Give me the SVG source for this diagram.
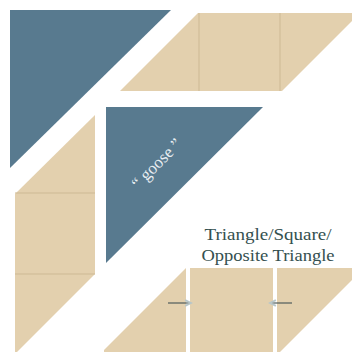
<svg xmlns="http://www.w3.org/2000/svg" width="352" height="352" viewBox="0 0 352 352">
<style>
.blue{fill:#587a8f}
.tan{fill:#e3d0ae}
.seam{stroke:#cdb994;stroke-width:1;fill:none}
.lbl{font-family:"Liberation Serif","Times New Roman",serif;fill:#34504f}
.goose{font-family:"Liberation Serif","Times New Roman",serif;fill:#e8eef2}
.arr{stroke:#4f5d5a;stroke-width:1.2;fill:none}
</style>
<defs>
<marker id="ah" viewBox="0 0 10 10" refX="8" refY="5" markerWidth="7" markerHeight="7" orient="auto">
<path d="M1,1.5 L8,5 L1,8.5" fill="none" stroke="#b8c6c8" stroke-width="2.2"/>
</marker>
</defs>
<rect width="352" height="352" fill="#ffffff"/>
<g id="big-triangle"><polygon class="blue" points="10,10 171,10 10,168"/></g>
<g id="top-strip">
<polygon class="tan" points="120,91 198,13 360,13 282,91"/>
<line class="seam" x1="199" y1="13" x2="199" y2="91"/>
<line class="seam" x1="280" y1="13" x2="280" y2="91"/>
</g>
<g id="goose-triangle">
<polygon class="blue" points="106,107 263,107 106,263"/>
<text class="goose" x="157" y="169" font-size="17" text-anchor="middle" transform="rotate(-45 157 164)">“ goose ”</text>
</g>
<g id="left-strip">
<polygon class="tan" points="95,115 95,274 15,354 15,194"/>
<line class="seam" x1="15" y1="193" x2="95" y2="193"/>
<line class="seam" x1="15" y1="274" x2="95" y2="274"/>
</g>
<g id="bottom-left-triangle"><polygon class="tan" points="186,268 186,352 104,352 104,350"/></g>
<g id="bottom-square"><rect class="tan" x="190" y="268" width="83" height="84"/></g>
<g id="bottom-right-triangle"><polygon class="tan" points="277,268 364,268 277,355"/></g>
<g id="caption">
<text class="lbl" x="268" y="240" font-size="16" text-anchor="middle" textLength="127" lengthAdjust="spacingAndGlyphs">Triangle/Square/</text>
<text class="lbl" x="268" y="261" font-size="16" text-anchor="middle" textLength="133" lengthAdjust="spacingAndGlyphs">Opposite Triangle</text>
</g>
<g id="connectors">
<line class="arr" x1="168" y1="303" x2="191" y2="303" marker-end="url(#ah)"/>
<line class="arr" x1="292" y1="303" x2="270" y2="303" marker-end="url(#ah)"/>
</g>
</svg>
